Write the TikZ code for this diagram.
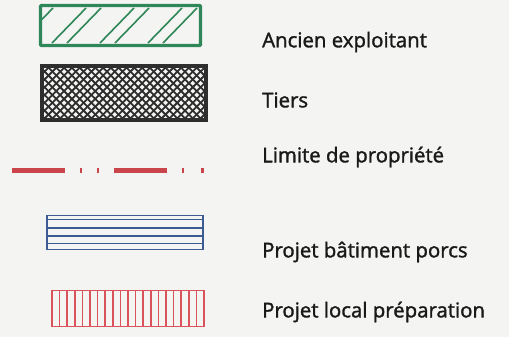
\documentclass[tikz,border=0pt]{standalone}
\usepackage{fontspec}
\setmainfont{Open Sans}[FakeBold=1.5]
\begin{document}
\begin{tikzpicture}[x=1pt,y=-1pt,
  lbl/.style={anchor=west,inner sep=0pt,text=black!90,font=\fontsize{20.4}{23}\selectfont},
]
\definecolor{bg}{HTML}{F4F4F2}
\definecolor{gr}{HTML}{2E8659}
\definecolor{bk}{HTML}{2E2E2E}
\definecolor{rd}{HTML}{C9454B}
\definecolor{bl}{HTML}{3D5C94}
\definecolor{rl}{HTML}{D9535A}
\fill[bg] (0,0) rectangle (509,337);
\useasboundingbox (0,0) rectangle (509,337);
% green hatched box
\begin{scope}
  \clip (40,5) rectangle (201,46);
  \foreach \k in {0,...,3}{
    \draw[gr,line width=1.6pt] (4+48*\k,43) -- (38+48*\k,8);
    \draw[gr,line width=1.6pt] (19+48*\k,43) -- (53+48*\k,8);
  }
\end{scope}
\node[draw=gr,line width=3.3pt,minimum width=160pt,minimum height=40pt,inner sep=0pt,rounded corners=1pt] (anc) at (120.5,25.5) {};
% black crosshatch
\begin{scope}
  \clip (41,65) rectangle (207,121);
  \foreach \i in {0,...,40}{
    \draw[bk,line width=1.8pt] (-40+7.8*\i,125) -- (20+7.8*\i,65);
    \draw[bk,line width=1.8pt] (-40+7.8*\i,65) -- (20+7.8*\i,125);
  }
\end{scope}
\node[draw=bk,line width=3.6pt,minimum width=164pt,minimum height=54pt,inner sep=0pt] (tiers) at (124,93) {};
% property limit
\draw[rd,line width=5pt] (12,170) -- (65,170);
\draw[rd,line width=5pt] (79.5,170) -- (81.5,170);
\draw[rd,line width=5pt] (97,170) -- (99,170);
\draw[rd,line width=5pt] (114,170) -- (167,170);
\draw[rd,line width=5pt] (182,170) -- (184,170);
\draw[rd,line width=5pt] (200.5,170) -- (203.5,170);
% blue box
\node[draw=bl,line width=1.8pt,minimum width=156pt,minimum height=34pt,inner sep=0pt] (porcs) at (125,232.5) {};
\foreach \yy in {219.5,228,236,243.5}{
  \draw[bl,line width=1.7pt] (porcs.west |- 0,\yy) -- (porcs.east |- 0,\yy);
}
% red vertical lines box
\node[draw=rl,line width=1.6pt,minimum width=152pt,minimum height=36pt,inner sep=0pt] (prep) at (128,308.5) {};
\foreach \i in {1,...,19}{
  \draw[rl,line width=1.5pt] (52+7.6*\i,291) -- (52+7.6*\i,326);
}
% labels
\node[lbl] (t1) at (262,42) {Ancien exploitant};
\node[lbl] (t2) at (262,100) {Tiers};
\node[lbl] (t3) at (262,157) {Limite de propriété};
\node[lbl] (t4) at (262,252) {Projet bâtiment porcs};
\node[lbl] (t5) at (262,312) {Projet local préparation};
\end{tikzpicture}
\end{document}
